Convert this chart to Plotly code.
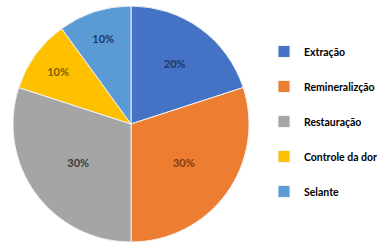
import plotly.graph_objects as go

categories = ["Extração", "Remineralizção", "Restauração", "Controle da dor", "Selante"]
values = [20, 30, 30, 10, 10]
colors = ["#4472C4", "#ED7D31", "#A5A5A5", "#FFC000", "#5B9BD5"]
text_colors = ["#1F3864", "#843C0C", "#3A3A3A", "#7F6000", "#1F3864"]

legend_labels = ["<span style='font-size:10.5px'>%s</span><br> " % c for c in categories]

fig = go.Figure(go.Pie(
    labels=legend_labels,
    values=values,
    customdata=categories,
    sort=False,
    direction="clockwise",
    rotation=0,
    marker=dict(colors=colors, line=dict(color="#F2F2F2", width=1)),
    textinfo="percent",
    texttemplate="%{percent:.0%}",
    textposition="inside",
    insidetextorientation="horizontal",
    textfont=dict(family="Lato", size=11, color=text_colors, weight="bold"),
    hovertemplate="%{customdata}: %{value}<extra></extra>",
    domain=dict(x=[13/387, 249/387], y=[6/248, 242/248]),
))

fig.update_layout(
    width=387, height=248,
    margin=dict(l=0, r=0, t=0, b=0),
    paper_bgcolor="white",
    plot_bgcolor="white",
    showlegend=True,
    legend=dict(
        x=264/387, xanchor="left",
        y=1 - 37/248, yanchor="top",
        font=dict(family="Lato", size=12.3, color="#000000", weight="bold"),
        valign="top",
        bgcolor="rgba(0,0,0,0)",
    ),
)

fig.write_html("out.html", config={"displayModeBar": False},
               post_script="document.body.style.margin='0';")
